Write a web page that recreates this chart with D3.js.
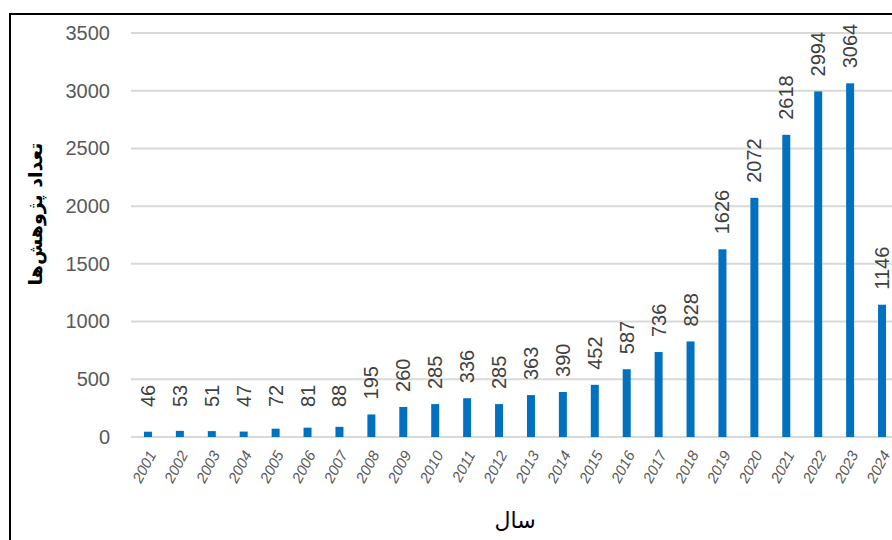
<!DOCTYPE html>
<html>
<head>
<meta charset="utf-8">
<script src="https://cdn.jsdelivr.net/npm/d3@7"></script>
<style>
  body { margin: 0; background: #fff; }
  svg { display: block; }
</style>
</head>
<body>
<div id="chart"></div>
<script>
// data
var years = ['2001', '2002', '2003', '2004', '2005', '2006', '2007', '2008', '2009', '2010', '2011', '2012',
             '2013', '2014', '2015', '2016', '2017', '2018', '2019', '2020', '2021', '2022', '2023', '2024'];
var counts = [46, 53, 51, 47, 72, 81, 88, 195, 260, 285, 336, 285,
              363, 390, 452, 587, 736, 828, 1626, 2072, 2618, 2994, 3064, 1146];
var yTicks = [0, 500, 1000, 1500, 2000, 2500, 3000, 3500];

var svgWidth = 892;
var svgHeight = 540;

var svg = d3.select('#chart')
  .append('svg')
  .attr('width', svgWidth)
  .attr('height', svgHeight);

// frame (chart is cropped on the right and bottom)
svg.append('path')
  .attr('d', 'M10,540 L10,14 L892,14')
  .attr('fill', 'none')
  .attr('stroke', '#000')
  .attr('stroke-width', 2);

var xScale = d3.scaleBand()
  .domain(years)
  .range([132, 898])
  .paddingInner(0.75)
  .paddingOuter(0.375);

var yScale = d3.scaleLinear()
  .domain([0, 3500])
  .range([437, 33]);

// gridlines
svg.append('g')
  .selectAll('line')
  .data(yTicks)
  .enter()
  .append('line')
  .attr('x1', 131)
  .attr('x2', 892)
  .attr('y1', d => yScale(d))
  .attr('y2', d => yScale(d))
  .attr('stroke', '#d9d9d9')
  .attr('stroke-width', 2);

// y axis labels
var leftAxis = d3.axisLeft(yScale).tickValues(yTicks).tickFormat(d3.format('d')).tickSize(0).tickPadding(0);
var yAxisG = svg.append('g')
  .attr('transform', 'translate(110, 0)')
  .call(leftAxis);
yAxisG.select('.domain').remove();
yAxisG.selectAll('text')
  .attr('font-family', 'Liberation Sans, Arial, sans-serif')
  .attr('font-size', 20)
  .attr('fill', '#595959');

// bars
svg.append('g')
  .selectAll('rect')
  .data(counts)
  .enter()
  .append('rect')
  .attr('x', (d, i) => xScale(years[i]))
  .attr('y', d => yScale(d))
  .attr('width', xScale.bandwidth())
  .attr('height', d => yScale(0) - yScale(d))
  .attr('fill', '#0070c0');

// value labels, rotated
svg.append('g')
  .selectAll('text')
  .data(counts)
  .enter()
  .append('text')
  .attr('transform', function(d, i) {
    var cx = xScale(years[i]) + xScale.bandwidth() / 2 + 7;
    var cy = Math.min(yScale(d) - 15, 407);
    return 'translate(' + cx + ',' + cy + ') rotate(-90)';
  })
  .attr('text-anchor', 'start')
  .attr('font-family', 'Liberation Sans, Arial, sans-serif')
  .attr('font-size', 20)
  .attr('fill', '#404040')
  .text(d => d);

// x axis labels
var bottomAxis = d3.axisBottom(xScale).tickSize(0).tickPadding(0);
var xAxisG = svg.append('g')
  .attr('transform', 'translate(0, 452)')
  .call(bottomAxis);
xAxisG.select('.domain').remove();
xAxisG.selectAll('text')
  .attr('font-family', 'Liberation Sans, Arial, sans-serif')
  .attr('font-size', 15)
  .attr('font-style', 'italic')
  .attr('fill', '#595959')
  .attr('text-anchor', 'end')
  .attr('dy', '0.35em')
  .attr('transform', 'translate(4,0) rotate(-62)');

// axis titles
svg.append('text')
  .attr('x', 515)
  .attr('y', 528)
  .attr('text-anchor', 'middle')
  .attr('font-family', 'DejaVu Sans, Noto Sans, sans-serif')
  .attr('font-size', 22)
  .attr('fill', '#000')
  .text('سال');

svg.append('text')
  .attr('transform', 'translate(42, 214) rotate(-90)')
  .attr('text-anchor', 'middle')
  .attr('font-family', 'DejaVu Sans, Noto Sans, sans-serif')
  .attr('font-size', 19)
  .attr('font-weight', 'bold')
  .attr('fill', '#000')
  .text('تعداد پژوهش‌ها');
</script>
</body>
</html>
